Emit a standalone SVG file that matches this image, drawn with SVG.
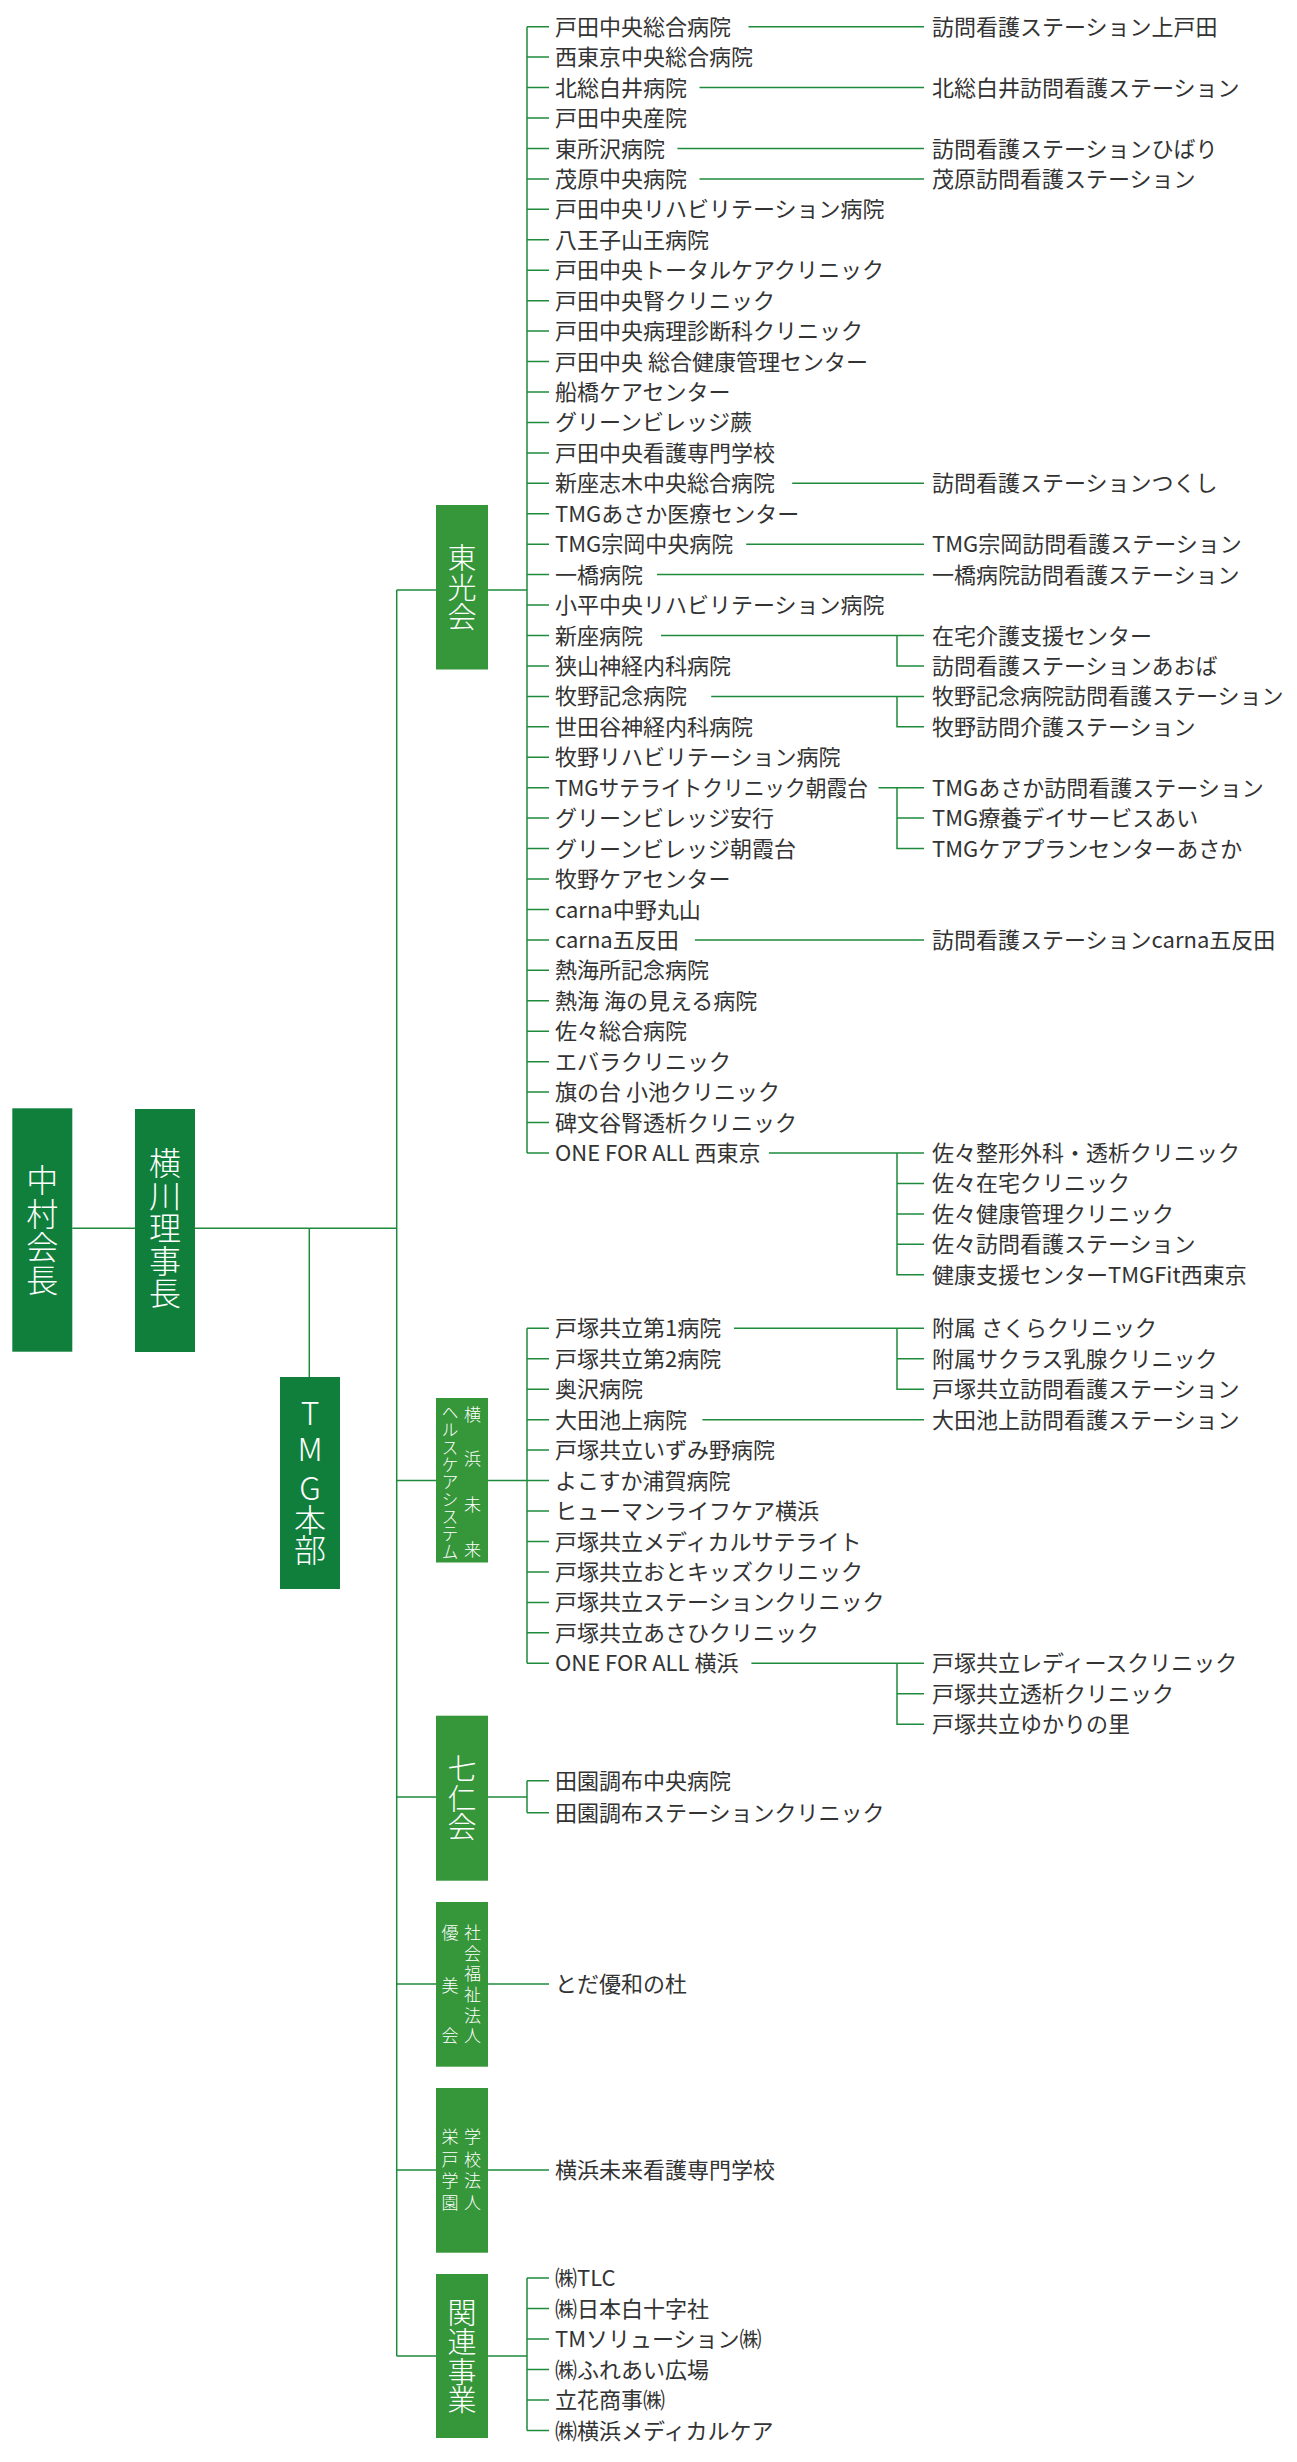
<svg xmlns="http://www.w3.org/2000/svg" width="1297" height="2462" viewBox="0 0 1297 2462">
<style>
.ln{stroke:#1e8b3c;stroke-width:1.5;fill:none}
.b1{fill:#117f3c}
.b2{fill:#36963a}
.t{font-family:"Noto Sans CJK JP","Noto Sans",sans-serif;font-size:22px;fill:#333}
.w{font-family:"Noto Sans CJK JP","Noto Sans",sans-serif;fill:#fff;text-anchor:middle;font-weight:300}
.w32{font-size:32px}
.w29{font-size:29px}
.ws{font-size:17px}
.wx{font-size:16.5px}
</style>
<rect width="1297" height="2462" fill="#fff"/>
<g id="connectors">
<path class="ln" d="M72.3 1228.3H135M195 1228.3H396.7M309.3 1228.3V1377M396.7 590V2356"/>
<path class="ln" d="M396.7 590H436M488 590H527M396.7 1480.6H436M488 1480.6H527M396.7 1797H436M488 1797H527M396.7 1984H436M488 1984H549M396.7 2170H436M488 2170H549M396.7 2356H436M488 2356H527"/>
<path class="ln" d="M527 26.7V1153M527 26.7H549M527 57.1H549M527 87.6H549M527 118H549M527 148.5H549M527 178.9H549M527 209.3H549M527 239.8H549M527 270.2H549M527 300.7H549M527 331.1H549M527 361.5H549M527 392H549M527 422.4H549M527 452.9H549M527 483.3H549M527 513.7H549M527 544.2H549M527 574.6H549M527 605.1H549M527 635.5H549M527 665.9H549M527 696.4H549M527 726.8H549M527 757.3H549M527 787.7H549M527 818.1H549M527 848.6H549M527 879H549M527 909.5H549M527 939.9H549M527 970.3H549M527 1000.8H549M527 1031.2H549M527 1061.7H549M527 1092.1H549M527 1122.5H549M527 1153H549"/>
<path class="ln" d="M748.5 26.7H924M699.5 87.6H924M677.4 148.5H924M699.5 178.9H924M792.2 483.3H924M746.2 544.2H924M657 574.6H924M661 635.5H924M897 635.5V665.9H924M711.2 696.4H924M897 696.4V726.8H924M878.5 787.7H924M897 787.7V848.6H924M897 818.1H924M694.9 939.9H924M768.9 1153H924M897 1153V1274.7H924M897 1183.4H924M897 1213.9H924M897 1244.3H924"/>
<path class="ln" d="M527 1328.3V1663.3M527 1328.3H549M527 1358.8H549M527 1389.2H549M527 1419.7H549M527 1450.1H549M527 1480.6H549M527 1511H549M527 1541.5H549M527 1571.9H549M527 1602.4H549M527 1632.8H549M527 1663.3H549"/>
<path class="ln" d="M734 1328.3H924M897 1328.3V1389.2H924M897 1358.8H924M702.4 1419.7H924M751.4 1663.3H924M897 1663.3V1724.2H924M897 1693.7H924"/>
<path class="ln" d="M527 1780.7V1812.7M527 1780.7H549M527 1812.7H549M527 2278V2430.5M527 2278H549M527 2308.5H549M527 2339H549M527 2369.5H549M527 2400H549M527 2430.5H549"/>
</g>
<g id="n-nakamura"><rect class="b1" x="12.3" y="1108.3" width="60" height="243.4"/>
<text class="w w32" x="42.3" y="1192.2">中</text><text class="w w32" x="42.3" y="1225.5">村</text><text class="w w32" x="42.3" y="1258.9">会</text><text class="w w32" x="42.3" y="1292.2">長</text></g>
<g id="n-yokokawa"><rect class="b1" x="135" y="1109" width="60" height="243"/>
<text class="w w32" x="165" y="1175.2">横</text><text class="w w32" x="165" y="1207.7">川</text><text class="w w32" x="165" y="1240.2">理</text><text class="w w32" x="165" y="1272.7">事</text><text class="w w32" x="165" y="1305.2">長</text></g>
<g id="n-tmg"><rect class="b1" x="280" y="1377" width="60" height="212"/>
<text class="w w32" x="310" y="1424.6">T</text><text class="w w32" x="310" y="1461.3">M</text><text class="w w32" x="310" y="1500">G</text><text class="w w32" x="310" y="1532.2">本</text><text class="w w32" x="310" y="1561.5">部</text></g>
<g id="n-toko"><rect class="b2" x="436" y="505" width="52" height="164.5"/>
<text class="w w29" x="462" y="569.3">東</text><text class="w w29" x="462" y="598.7">光</text><text class="w w29" x="462" y="627.7">会</text></g>
<g id="n-yokohama"><rect class="b2" x="436" y="1398" width="52" height="164.5"/>
<text class="w ws" x="472.5" y="1420.8">横</text><text class="w ws" x="472.5" y="1465.3">浜</text><text class="w ws" x="472.5" y="1511.3">未</text><text class="w ws" x="472.5" y="1555.8">来</text>
<text class="w wx" x="450" y="1418.8">ヘ</text><text class="w wx" x="450" y="1436.2">ル</text><text class="w wx" x="450" y="1453.6">ス</text><text class="w wx" x="450" y="1470.9">ケ</text><text class="w wx" x="450" y="1488.3">ア</text><text class="w wx" x="450" y="1505.7">シ</text><text class="w wx" x="450" y="1523.1">ス</text><text class="w wx" x="450" y="1540.4">テ</text><text class="w wx" x="450" y="1557.8">ム</text></g>
<g id="n-shichijin"><rect class="b2" x="436" y="1715.7" width="52" height="165"/>
<text class="w w29" x="462" y="1780">七</text><text class="w w29" x="462" y="1810">仁</text><text class="w w29" x="462" y="1837.7">会</text></g>
<g id="n-yubi"><rect class="b2" x="436" y="1902" width="52" height="164.7"/>
<text class="w ws" x="472.5" y="1938.9">社</text><text class="w ws" x="472.5" y="1959.6">会</text><text class="w ws" x="472.5" y="1980.3">福</text><text class="w ws" x="472.5" y="2001">祉</text><text class="w ws" x="472.5" y="2021.6">法</text><text class="w ws" x="472.5" y="2042.3">人</text>
<text class="w ws" x="450" y="1938.9">優</text><text class="w ws" x="450" y="1991.6">美</text><text class="w ws" x="450" y="2042.3">会</text></g>
<g id="n-eito"><rect class="b2" x="436" y="2088" width="52" height="164.7"/>
<text class="w ws" x="472.5" y="2143.3">学</text><text class="w ws" x="472.5" y="2165.6">校</text><text class="w ws" x="472.5" y="2187.3">法</text><text class="w ws" x="472.5" y="2208.9">人</text>
<text class="w ws" x="450" y="2143.3">栄</text><text class="w ws" x="450" y="2165.6">戸</text><text class="w ws" x="450" y="2187.3">学</text><text class="w ws" x="450" y="2208.9">園</text></g>
<g id="n-kanren"><rect class="b2" x="436" y="2274" width="52" height="164"/>
<text class="w w29" x="462" y="2324.3">関</text><text class="w w29" x="462" y="2353.3">連</text><text class="w w29" x="462" y="2382.7">事</text><text class="w w29" x="462" y="2411">業</text></g>
<g id="toko-items" class="t">
<g id="t0"><text x="555" y="34.7">戸田中央総合病院</text></g>
<g id="t1"><text x="555" y="65.1">西東京中央総合病院</text></g>
<g id="t2"><text x="555" y="95.6">北総白井病院</text></g>
<g id="t3"><text x="555" y="126">戸田中央産院</text></g>
<g id="t4"><text x="555" y="156.5">東所沢病院</text></g>
<g id="t5"><text x="555" y="186.9">茂原中央病院</text></g>
<g id="t6"><text x="555" y="217.3">戸田中央リハビリテーション病院</text></g>
<g id="t7"><text x="555" y="247.8">八王子山王病院</text></g>
<g id="t8"><text x="555" y="278.2">戸田中央トータルケアクリニック</text></g>
<g id="t9"><text x="555" y="308.7">戸田中央腎クリニック</text></g>
<g id="t10"><text x="555" y="339.1">戸田中央病理診断科クリニック</text></g>
<g id="t11"><text x="555" y="369.5">戸田中央 総合健康管理センター</text></g>
<g id="t12"><text x="555" y="400">船橋ケアセンター</text></g>
<g id="t13"><text x="555" y="430.4">グリーンビレッジ蕨</text></g>
<g id="t14"><text x="555" y="460.9">戸田中央看護専門学校</text></g>
<g id="t15"><text x="555" y="491.3">新座志木中央総合病院</text></g>
<g id="t16"><text x="555" y="521.7">TMGあさか医療センター</text></g>
<g id="t17"><text x="555" y="552.2">TMG宗岡中央病院</text></g>
<g id="t18"><text x="555" y="582.6">一橋病院</text></g>
<g id="t19"><text x="555" y="613.1">小平中央リハビリテーション病院</text></g>
<g id="t20"><text x="555" y="643.5">新座病院</text></g>
<g id="t21"><text x="555" y="673.9">狭山神経内科病院</text></g>
<g id="t22"><text x="555" y="704.4">牧野記念病院</text></g>
<g id="t23"><text x="555" y="734.8">世田谷神経内科病院</text></g>
<g id="t24"><text x="555" y="765.3">牧野リハビリテーション病院</text></g>
<g id="t25"><text x="555" y="795.7" textLength="313" lengthAdjust="spacingAndGlyphs">TMGサテライトクリニック朝霞台</text></g>
<g id="t26"><text x="555" y="826.1">グリーンビレッジ安行</text></g>
<g id="t27"><text x="555" y="856.6">グリーンビレッジ朝霞台</text></g>
<g id="t28"><text x="555" y="887">牧野ケアセンター</text></g>
<g id="t29"><text x="555" y="917.5">carna中野丸山</text></g>
<g id="t30"><text x="555" y="947.9">carna五反田</text></g>
<g id="t31"><text x="555" y="978.3">熱海所記念病院</text></g>
<g id="t32"><text x="555" y="1008.8">熱海 海の見える病院</text></g>
<g id="t33"><text x="555" y="1039.2">佐々総合病院</text></g>
<g id="t34"><text x="555" y="1069.7">エバラクリニック</text></g>
<g id="t35"><text x="555" y="1100.1">旗の台 小池クリニック</text></g>
<g id="t36"><text x="555" y="1130.5">碑文谷腎透析クリニック</text></g>
<g id="t37"><text x="555" y="1161">ONE FOR ALL 西東京</text></g>
<g id="s0"><text x="932" y="34.7">訪問看護ステーション上戸田</text></g>
<g id="s2"><text x="932" y="95.6">北総白井訪問看護ステーション</text></g>
<g id="s4"><text x="932" y="156.5">訪問看護ステーションひばり</text></g>
<g id="s5"><text x="932" y="186.9">茂原訪問看護ステーション</text></g>
<g id="s15"><text x="932" y="491.3">訪問看護ステーションつくし</text></g>
<g id="s17"><text x="932" y="552.2">TMG宗岡訪問看護ステーション</text></g>
<g id="s18"><text x="932" y="582.6">一橋病院訪問看護ステーション</text></g>
<g id="s20"><text x="932" y="643.5">在宅介護支援センター</text></g>
<g id="s21"><text x="932" y="673.9">訪問看護ステーションあおば</text></g>
<g id="s22"><text x="932" y="704.4">牧野記念病院訪問看護ステーション</text></g>
<g id="s23"><text x="932" y="734.8">牧野訪問介護ステーション</text></g>
<g id="s25"><text x="932" y="795.7">TMGあさか訪問看護ステーション</text></g>
<g id="s26"><text x="932" y="826.1">TMG療養デイサービスあい</text></g>
<g id="s27"><text x="932" y="856.6">TMGケアプランセンターあさか</text></g>
<g id="s30"><text x="932" y="947.9">訪問看護ステーションcarna五反田</text></g>
<g id="s37"><text x="932" y="1161">佐々整形外科・透析クリニック</text></g>
<g id="s38"><text x="932" y="1191.4">佐々在宅クリニック</text></g>
<g id="s39"><text x="932" y="1221.9">佐々健康管理クリニック</text></g>
<g id="s40"><text x="932" y="1252.3">佐々訪問看護ステーション</text></g>
<g id="s41"><text x="932" y="1282.7">健康支援センターTMGFit西東京</text></g>
</g>
<g id="yokohama-items" class="t">
<g id="y0"><text x="555" y="1336.3">戸塚共立第1病院</text></g>
<g id="y1"><text x="555" y="1366.8">戸塚共立第2病院</text></g>
<g id="y2"><text x="555" y="1397.2">奥沢病院</text></g>
<g id="y3"><text x="555" y="1427.7">大田池上病院</text></g>
<g id="y4"><text x="555" y="1458.1">戸塚共立いずみ野病院</text></g>
<g id="y5"><text x="555" y="1488.6">よこすか浦賀病院</text></g>
<g id="y6"><text x="555" y="1519">ヒューマンライフケア横浜</text></g>
<g id="y7"><text x="555" y="1549.5">戸塚共立メディカルサテライト</text></g>
<g id="y8"><text x="555" y="1579.9">戸塚共立おとキッズクリニック</text></g>
<g id="y9"><text x="555" y="1610.4">戸塚共立ステーションクリニック</text></g>
<g id="y10"><text x="555" y="1640.8">戸塚共立あさひクリニック</text></g>
<g id="y11"><text x="555" y="1671.3">ONE FOR ALL 横浜</text></g>
<g id="ys0"><text x="932" y="1336.3">附属 さくらクリニック</text></g>
<g id="ys1"><text x="932" y="1366.8">附属サクラス乳腺クリニック</text></g>
<g id="ys2"><text x="932" y="1397.2">戸塚共立訪問看護ステーション</text></g>
<g id="ys3"><text x="932" y="1427.7">大田池上訪問看護ステーション</text></g>
<g id="ys11"><text x="932" y="1671.3">戸塚共立レディースクリニック</text></g>
<g id="ys12"><text x="932" y="1701.7">戸塚共立透析クリニック</text></g>
<g id="ys13"><text x="932" y="1732.2">戸塚共立ゆかりの里</text></g>
</g>
<g id="other-items" class="t">
<g id="c0"><text x="555" y="1788.7">田園調布中央病院</text></g>
<g id="c1"><text x="555" y="1820.7">田園調布ステーションクリニック</text></g>
<g id="u0"><text x="555" y="1992">とだ優和の杜</text></g>
<g id="e0"><text x="555" y="2178">横浜未来看護専門学校</text></g>
<g id="k0"><text x="555" y="2286">㈱TLC</text></g>
<g id="k1"><text x="555" y="2316.5">㈱日本白十字社</text></g>
<g id="k2"><text x="555" y="2347">TMソリューション㈱</text></g>
<g id="k3"><text x="555" y="2377.5">㈱ふれあい広場</text></g>
<g id="k4"><text x="555" y="2408">立花商事㈱</text></g>
<g id="k5"><text x="555" y="2438.5">㈱横浜メディカルケア</text></g>
</g>
</svg>
